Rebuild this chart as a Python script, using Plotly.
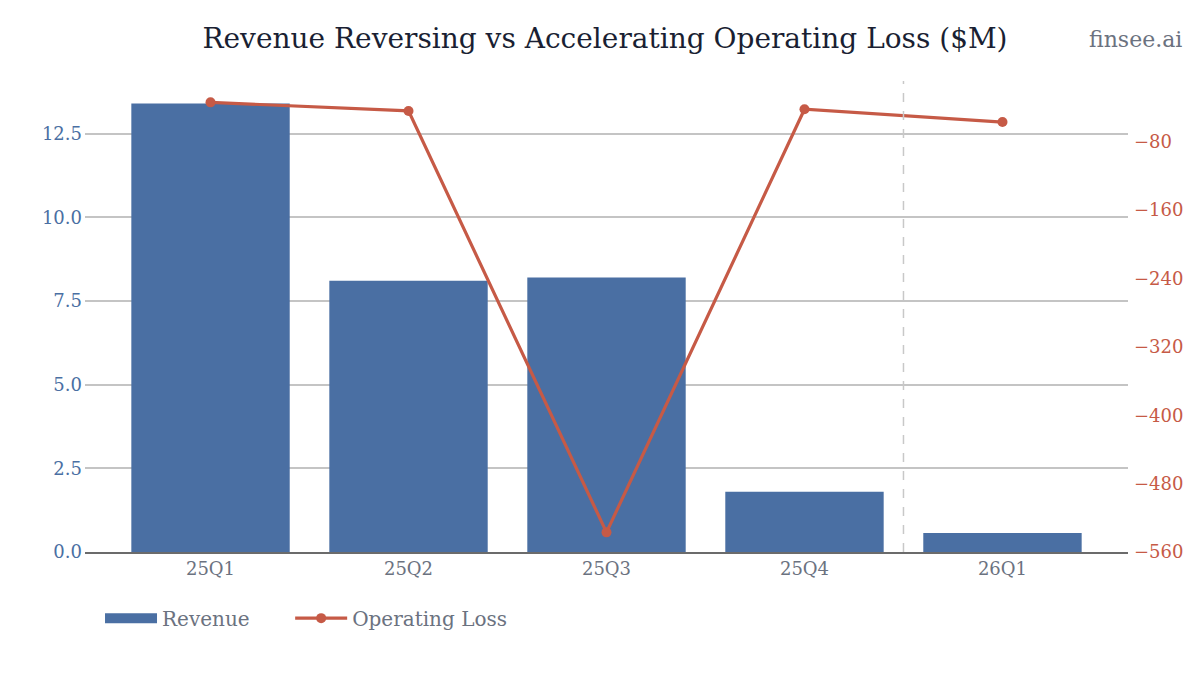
import plotly.graph_objects as go

quarters = ["25Q1", "25Q2", "25Q3", "25Q4", "26Q1"]
revenue = [13.4, 8.1, 8.2, 1.8, 0.57]
operating_loss = [-34, -44, -537, -42, -57]
left_ticks = [0.0, 2.5, 5.0, 7.5, 10.0, 12.5]
right_ticks = [-560, -480, -400, -320, -240, -160, -80]

FONT = "DejaVu Serif"
BAR = "#4a6fa3"
LINE = "#c65a46"
GRAY = "#6b7280"

fig = go.Figure()
fig.add_trace(go.Bar(
    x=quarters, y=revenue, name="Revenue", showlegend=False,
    marker=dict(color=BAR, line=dict(width=0)), width=0.8,
))
# legend proxy for the bar series (wide swatch)
fig.add_trace(go.Scatter(
    x=[None], y=[None], name="Revenue", mode="lines",
    line=dict(color=BAR, width=15), showlegend=True, legend="legend",
))
fig.add_trace(go.Scatter(
    x=quarters, y=operating_loss, name="Operating Loss", yaxis="y2",
    mode="lines+markers", line=dict(color=LINE, width=3.2),
    marker=dict(color=LINE, size=10), legend="legend2",
))

fig.add_shape(type="line", xref="x", yref="paper", x0=3.5, x1=3.5, y0=0, y1=1,
              line=dict(color="#c8c8c8", width=1.5, dash="dash"))

legend_common = dict(orientation="h", xanchor="left", y=-0.099, yanchor="top",
                     font=dict(family=FONT, size=20, color=GRAY), itemwidth=52,
                     bgcolor="rgba(0,0,0,0)")

fig.update_layout(
    width=1200, height=675,
    margin=dict(l=77, r=80, t=73, b=131),
    paper_bgcolor="white", plot_bgcolor="white",
    font=dict(family=FONT, size=18, color=GRAY),
    title=dict(text="Revenue Reversing vs Accelerating Operating Loss ($M)",
               x=0.4975, xanchor="center", y=0.9556, yanchor="middle",
               font=dict(family=FONT, size=28, color="#1a1f33")),
    showlegend=True,
    legend=dict(x=0.0144, **legend_common),
    legend2=dict(x=0.1967, **legend_common),
    xaxis=dict(range=[-0.634, 4.634], showgrid=False, showline=True,
               linecolor="#6b6b6b", linewidth=1.5, ticks="",
               tickfont=dict(family=FONT, size=18, color=GRAY)),
    yaxis=dict(range=[0, 14.07], tickvals=left_ticks,
               ticktext=[f"{v:.1f}" for v in left_ticks],
               showgrid=True, gridcolor="#c4c4c4", gridwidth=1.5,
               zeroline=False, showline=False, ticks="", ticklabelstandoff=2,
               tickfont=dict(family=FONT, size=18, color=BAR)),
    yaxis2=dict(range=[-560, -9], tickvals=right_ticks,
                ticktext=["\u2212" + str(abs(v)) for v in right_ticks],
                overlaying="y", side="right", showgrid=False, zeroline=False,
                showline=False, ticks="", ticklabelstandoff=5,
                tickfont=dict(family=FONT, size=18, color=LINE)),
)

fig.add_annotation(text="finsee.ai", xref="paper", yref="paper",
                   x=1.0537, xanchor="right", y=1.089, yanchor="middle",
                   showarrow=False, font=dict(family=FONT, size=22, color=GRAY))

fig.write_html("out.html")
